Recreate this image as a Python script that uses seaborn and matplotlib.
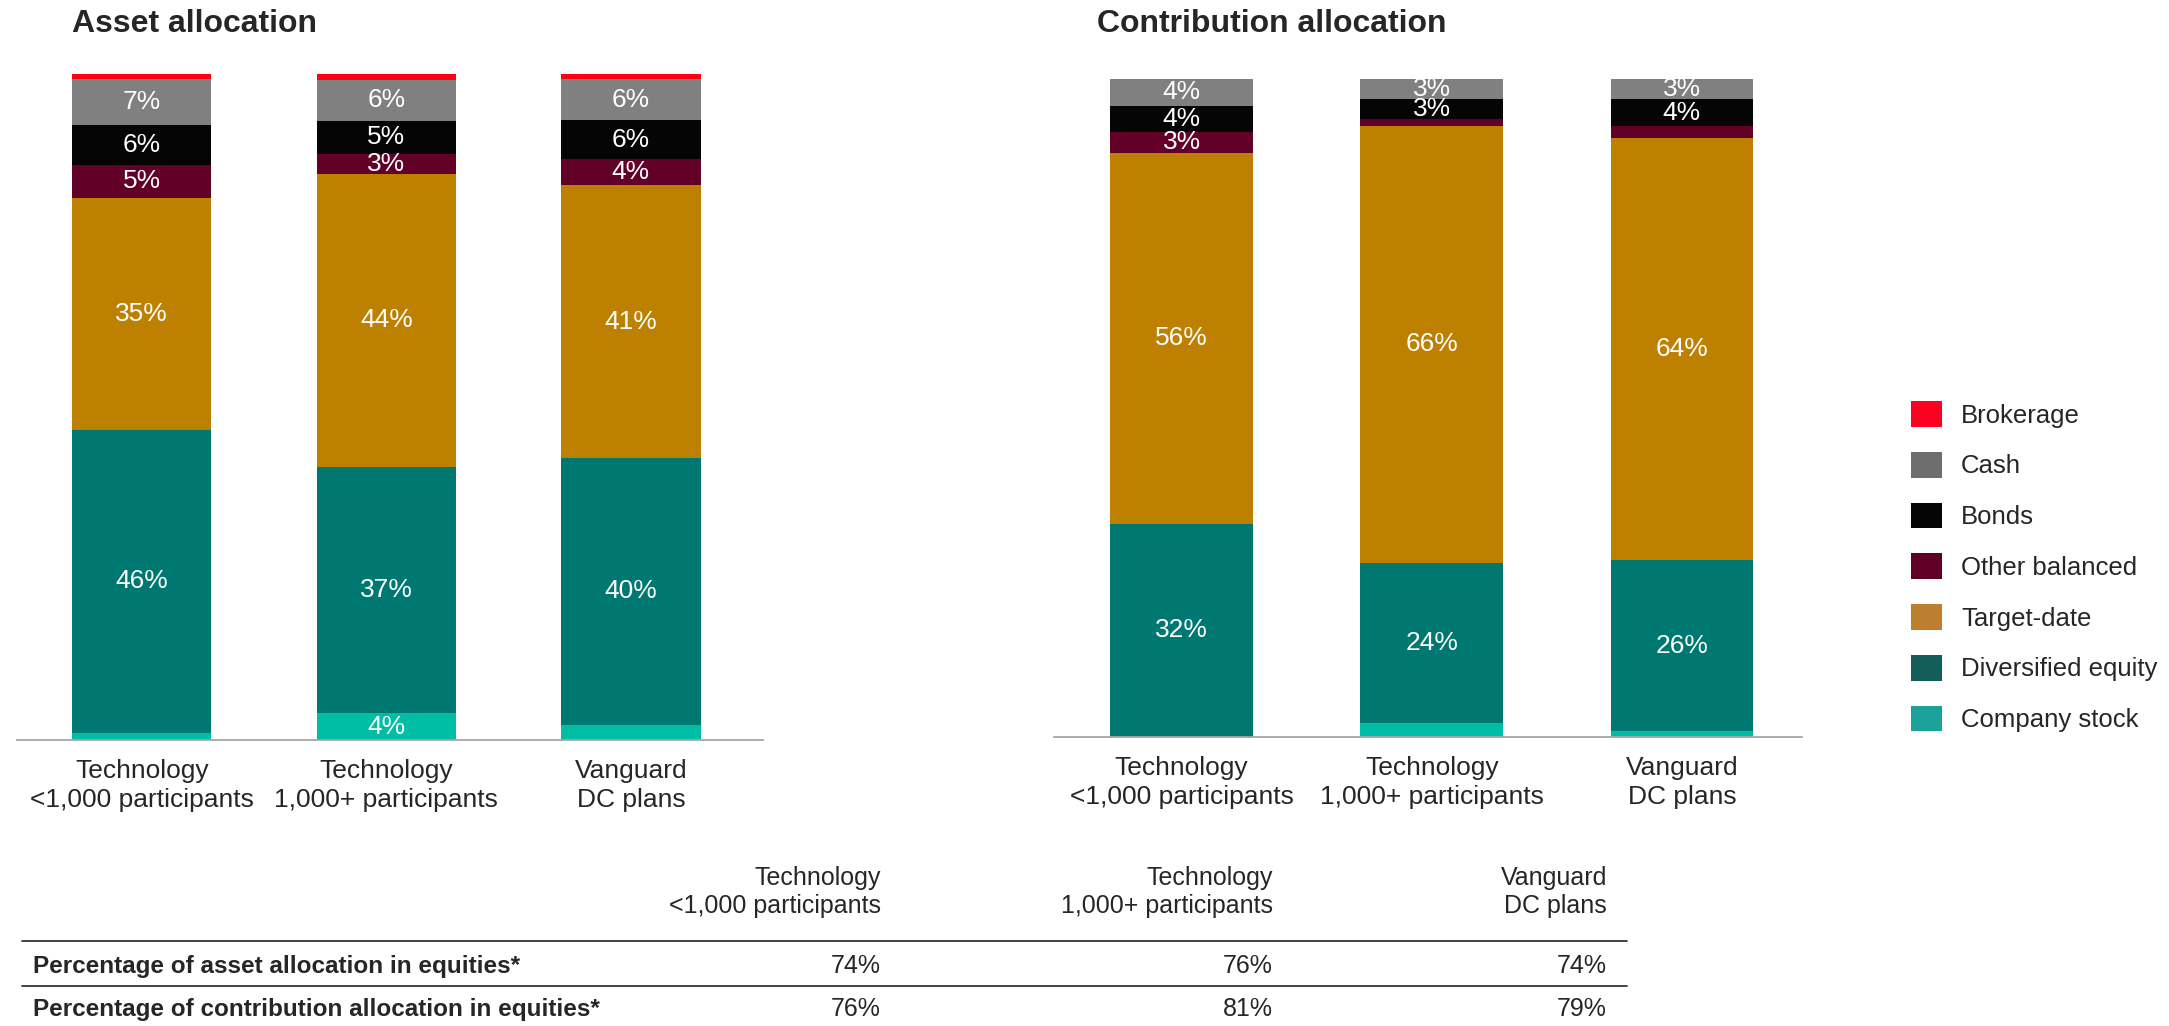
import numpy as np
import pandas as pd
import matplotlib
matplotlib.use("Agg")
import matplotlib.pyplot as plt
from matplotlib.patches import Patch
from matplotlib.lines import Line2D
import seaborn as sns

# ========== Data ==========

plans = ["Technology\n<1,000 participants", "Technology\n1,000+ participants", "Vanguard\nDC plans"]

# segments from bottom to top of each bar
segments = ["Company stock", "Diversified equity", "Target-date", "Other balanced",
            "Bonds", "Cash", "Brokerage"]

# asset allocation (%), one value per plan
company_stock_asset = [1.0, 4.0, 2.3]
div_equity_asset = [45.6, 37.0, 40.0]
target_date_asset = [34.8, 44.0, 41.0]
other_bal_asset = [5.0, 3.0, 3.9]
bonds_asset = [5.9, 5.0, 5.9]
cash_asset = [6.9, 6.1, 6.1]
brokerage_asset = [0.9, 0.9, 0.8]

# contribution allocation (%)
company_stock_contrib = [0.0, 2.1, 0.9]
div_equity_contrib = [32.4, 24.4, 26.0]
target_date_contrib = [56.4, 66.4, 64.1]
other_bal_contrib = [3.1, 1.0, 1.9]
bonds_contrib = [4.0, 3.0, 4.0]
cash_contrib = [4.1, 3.1, 3.1]
brokerage_contrib = [0.0, 0.0, 0.0]

# summary table
table_rows = ["Percentage of asset allocation in equities*",
              "Percentage of contribution allocation in equities*"]
asset_equity = [74, 76, 74]
contrib_equity = [76, 81, 79]

# bar colours and (slightly different) legend swatch colours
bar_colors = ["#00BEA6", "#007872", "#BE8000", "#620028", "#040504", "#808080", "#FF0012"]
legend_colors = ["#1BA39A", "#135E5A", "#BC7F2E", "#600028", "#050505", "#6E6E6E", "#FF0020"]

W, H = 2169, 1026


def fx(px):
    return px / W


def fy(py):
    return 1 - py / H


def build_frame(columns):
    """Long table: plan, segment, value, cumulative top"""
    rows = []
    for i, plan in enumerate(plans):
        cum = 0.0
        for seg, vals in zip(segments, columns):
            v = vals[i]
            cum += v
            rows.append({"plan": plan, "segment": seg, "value": v, "top": cum})
    return pd.DataFrame(rows)


def draw_stack(ax, df, xlim):
    # draw from top segment down, each bar reaching its cumulative top
    for seg, col in reversed(list(zip(segments, bar_colors))):
        sub = df[df["segment"] == seg]
        sns.barplot(data=sub, x="plan", y="top", order=plans, color=col,
                    saturation=1, width=0.57, errorbar=None, linewidth=0, ax=ax)

    # segment labels
    for _, r in df.iterrows():
        if round(r["value"]) >= 3:
            xi = plans.index(r["plan"])
            ax.text(xi, r["top"] - r["value"] / 2, f"{r['value']:.0f}%",
                    ha="center", va="center", color="white", fontsize=19)

    ax.set_ylim(0, 100)
    ax.set_xlim(*xlim)
    ax.set_xlabel("")
    ax.set_ylabel("")
    ax.set_yticks([])
    ax.tick_params(axis="x", length=0, pad=14, labelsize=19)
    for side in ["top", "right", "left"]:
        ax.spines[side].set_visible(False)
    ax.spines["bottom"].set_color("#A6A6A6")
    ax.spines["bottom"].set_linewidth(1.3)


def main():
    sns.set_theme(style="white")
    plt.rcParams["font.family"] = ["Liberation Sans", "DejaVu Sans"]

    fig = plt.figure(figsize=(W / 100, H / 100), dpi=100)

    asset_df = build_frame([company_stock_asset, div_equity_asset, target_date_asset,
                            other_bal_asset, bonds_asset, cash_asset, brokerage_asset])
    contrib_df = build_frame([company_stock_contrib, div_equity_contrib, target_date_contrib,
                              other_bal_contrib, bonds_contrib, cash_contrib, brokerage_contrib])

    # Axes placed in pixel layout of the reference
    ax1 = fig.add_axes([fx(17), fy(740), fx(763) - fx(17), (740 - 74) / H])
    ax2 = fig.add_axes([fx(1054), fy(737), fx(1802) - fx(1054), (737 - 79) / H])
    draw_stack(ax1, asset_df, (-0.51, 2.54))
    draw_stack(ax2, contrib_df, (-0.51, 2.48))
    for ax in (ax1, ax2):
        for lab in ax.get_xticklabels():
            lab.set_linespacing(1.22)

    # Titles
    fig.text(fx(72), fy(32), "Asset allocation", fontsize=23, fontweight="bold", va="baseline")
    fig.text(fx(1097), fy(32), "Contribution allocation", fontsize=23, fontweight="bold", va="baseline")

    # Legend (top to bottom: Brokerage ... Company stock)
    handles = [Patch(facecolor=c, edgecolor="none", label=s)
               for s, c in reversed(list(zip(segments, legend_colors)))]
    fig.legend(handles=handles, loc="upper left", bbox_to_anchor=(fx(1911), fy(401)),
               frameon=False, fontsize=18.5, handlelength=1.2, handleheight=1.17,
               labelspacing=0.94, handletextpad=0.75, borderpad=0, borderaxespad=0)

    # Summary table
    col_right = [881, 1273, 1607]
    for x, plan in zip(col_right, plans):
        fig.text(fx(x), fy(913), plan, ha="right", va="baseline", multialignment="right",
                 fontsize=18, linespacing=1.22)
    for y in [941, 986]:
        fig.add_artist(Line2D([fx(22), fx(1627)], [fy(y), fy(y)], color="#222222", lw=1.2))
    for y, label, vals in zip([973, 1016], table_rows, [asset_equity, contrib_equity]):
        fig.text(fx(33), fy(y), label, fontsize=17.5, fontweight="bold", va="baseline")
        for x, v in zip(col_right, vals):
            fig.text(fx(x), fy(y), f"{v}%", fontsize=18, ha="right", va="baseline")

    fig.savefig("out.png", dpi=100)
    plt.close(fig)


if __name__ == "__main__":
    main()
